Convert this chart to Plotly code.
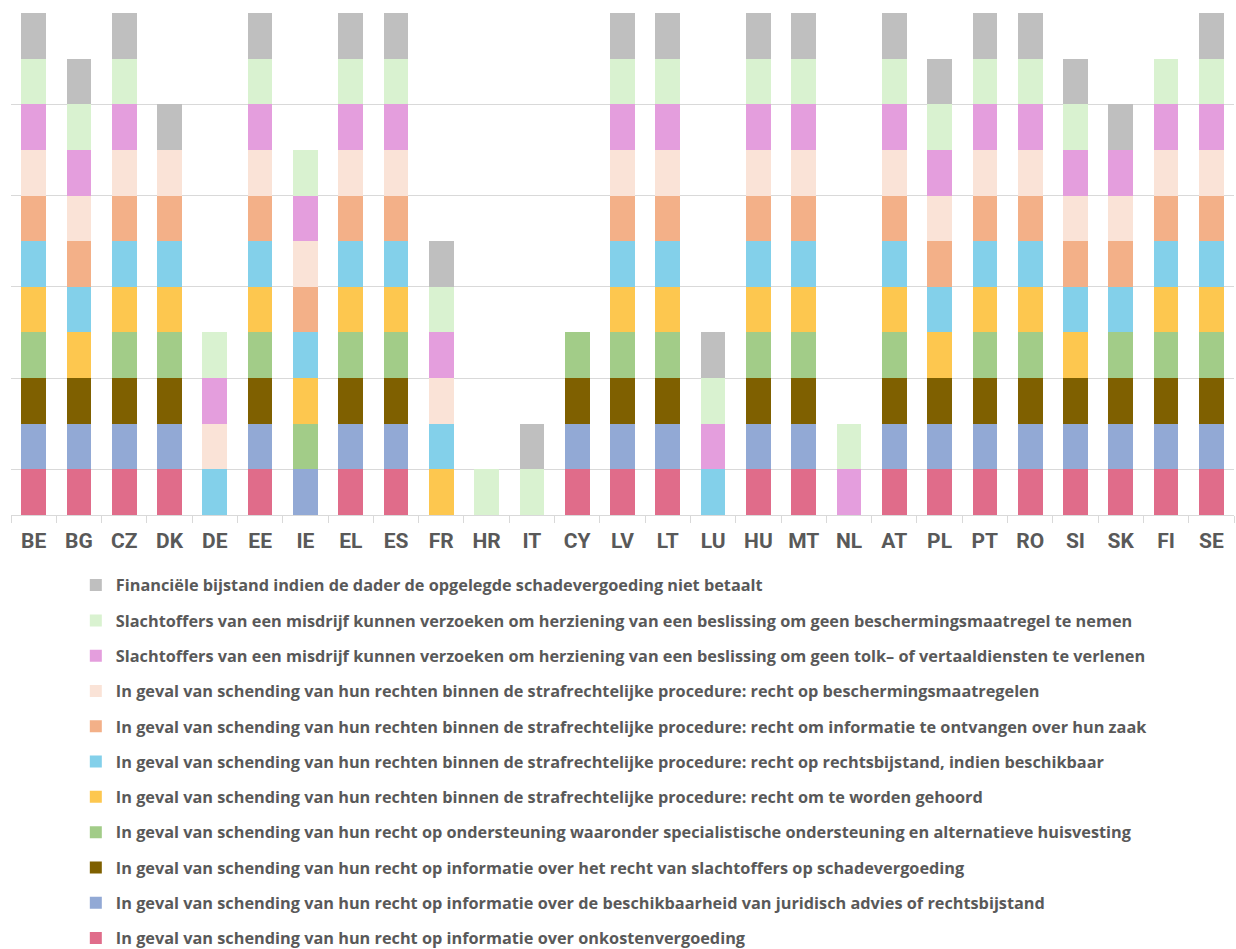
import plotly.graph_objects as go

# Lidstaten (x-as)
countries = ["BE", "BG", "CZ", "DK", "DE", "EE", "IE", "EL", "ES", "FR", "HR", "IT", "CY", "LV",
             "LT", "LU", "HU", "MT", "NL", "AT", "PL", "PT", "RO", "SI", "SK", "FI", "SE"]

# 1 = maatregel aanwezig, 0 = niet aanwezig (per lidstaat, volgorde als countries)
onkostenvergoeding = [1, 1, 1, 1, 0, 1, 0, 1, 1, 0, 0, 0, 1, 1, 1, 0, 1, 1, 0, 1, 1, 1, 1, 1, 1, 1, 1]
juridisch_advies = [1, 1, 1, 1, 0, 1, 1, 1, 1, 0, 0, 0, 1, 1, 1, 0, 1, 1, 0, 1, 1, 1, 1, 1, 1, 1, 1]
info_schadevergoeding = [1, 1, 1, 1, 0, 1, 0, 1, 1, 0, 0, 0, 1, 1, 1, 0, 1, 1, 0, 1, 1, 1, 1, 1, 1, 1, 1]
ondersteuning = [1, 0, 1, 1, 0, 1, 1, 1, 1, 0, 0, 0, 1, 1, 1, 0, 1, 1, 0, 1, 0, 1, 1, 0, 1, 1, 1]
gehoord = [1, 1, 1, 1, 0, 1, 1, 1, 1, 1, 0, 0, 0, 1, 1, 0, 1, 1, 0, 1, 1, 1, 1, 1, 0, 1, 1]
rechtsbijstand = [1, 1, 1, 1, 1, 1, 1, 1, 1, 1, 0, 0, 0, 1, 1, 1, 1, 1, 0, 1, 1, 1, 1, 1, 1, 1, 1]
informatie_zaak = [1, 1, 1, 1, 0, 1, 1, 1, 1, 0, 0, 0, 0, 1, 1, 0, 1, 1, 0, 1, 1, 1, 1, 1, 1, 1, 1]
beschermingsmaatregelen = [1, 1, 1, 1, 1, 1, 1, 1, 1, 1, 0, 0, 0, 1, 1, 0, 1, 1, 0, 1, 1, 1, 1, 1, 1, 1, 1]
herziening_tolk = [1, 1, 1, 0, 1, 1, 1, 1, 1, 1, 0, 0, 0, 1, 1, 1, 1, 1, 1, 1, 1, 1, 1, 1, 1, 1, 1]
herziening_bescherming = [1, 1, 1, 0, 1, 1, 1, 1, 1, 1, 1, 1, 0, 1, 1, 1, 1, 1, 1, 1, 1, 1, 1, 1, 0, 1, 1]
financiele_bijstand = [1, 1, 1, 1, 0, 1, 0, 1, 1, 1, 0, 1, 0, 1, 1, 1, 1, 1, 0, 1, 1, 1, 1, 1, 1, 0, 1]

# Reeksen van onder naar boven gestapeld: (waarden, legendatekst, kleur)
series = [
    (onkostenvergoeding,
     "In geval van schending van hun recht op informatie over onkostenvergoeding", "#E06C8A"),
    (juridisch_advies,
     "In geval van schending van hun recht op informatie over de beschikbaarheid van juridisch advies of rechtsbijstand", "#92A9D5"),
    (info_schadevergoeding,
     "In geval van schending van hun recht op informatie over het recht van slachtoffers op schadevergoeding", "#7F6000"),
    (ondersteuning,
     "In geval van schending van hun recht op ondersteuning waaronder specialistische ondersteuning en alternatieve huisvesting", "#A2CC88"),
    (gehoord,
     "In geval van schending van hun rechten binnen de strafrechtelijke procedure: recht om te worden gehoord", "#FDC74F"),
    (rechtsbijstand,
     "In geval van schending van hun rechten binnen de strafrechtelijke procedure: recht op rechtsbijstand, indien beschikbaar", "#83D0EA"),
    (informatie_zaak,
     "In geval van schending van hun rechten binnen de strafrechtelijke procedure: recht om informatie te ontvangen over hun zaak", "#F3B088"),
    (beschermingsmaatregelen,
     "In geval van schending van hun rechten binnen de strafrechtelijke procedure: recht op beschermingsmaatregelen", "#FAE3D7"),
    (herziening_tolk,
     "Slachtoffers van een misdrijf kunnen verzoeken om herziening van een beslissing om geen tolk– of vertaaldiensten te verlenen", "#E49EDD"),
    (herziening_bescherming,
     "Slachtoffers van een misdrijf kunnen verzoeken om herziening van een beslissing om geen beschermingsmaatregel te nemen", "#D9F2D0"),
    (financiele_bijstand,
     "Financiële bijstand indien de dader de opgelegde schadevergoeding niet betaalt", "#BFBFBF"),
]

TICK_FONT = "Roboto"
LEGEND_FONT = "Open Sans"
TEXT_COLOR = "#595959"
GRID = "#D9D9D9"

fig = go.Figure()
n = len(series)
for i, (values, label, color) in enumerate(series):
    fig.add_trace(go.Bar(
        x=countries, y=values, name=label, legendgroup=label,
        legendrank=n - i,  # bovenste reeks eerst in de legenda
        marker=dict(color=color, line=dict(width=0)),
        hoverinfo="x+name",
    ))

fig.update_layout(
    width=1236, height=949,
    barmode="stack", bargap=0.455,
    plot_bgcolor="white", paper_bgcolor="white",
    margin=dict(l=11, r=2, t=13, b=434, autoexpand=False),
    font=dict(family=LEGEND_FONT, color=TEXT_COLOR),
    xaxis=dict(
        type="category", tickson="boundaries", ticks="outside", ticklen=7,
        tickcolor=GRID, showline=True, linecolor=GRID, linewidth=1,
        ticklabelstandoff=7,
        tickfont=dict(family=TICK_FONT, size=21, color=TEXT_COLOR, weight="bold"),
        showgrid=False,
    ),
    yaxis=dict(
        range=[0, 11], tick0=1, dtick=2, showticklabels=False,
        showgrid=True, gridcolor=GRID, gridwidth=1, zeroline=False, showline=False,
    ),
    legend=dict(
        orientation="v", traceorder="grouped", tracegroupgap=11.1,
        x=0.053, xanchor="left", y=-0.1056, yanchor="top",
        font=dict(family=LEGEND_FONT, size=16.3, color=TEXT_COLOR, weight="bold"),
        itemwidth=30, bgcolor="rgba(0,0,0,0)",
    ),
    showlegend=True,
)

fig.write_html("out.html")
